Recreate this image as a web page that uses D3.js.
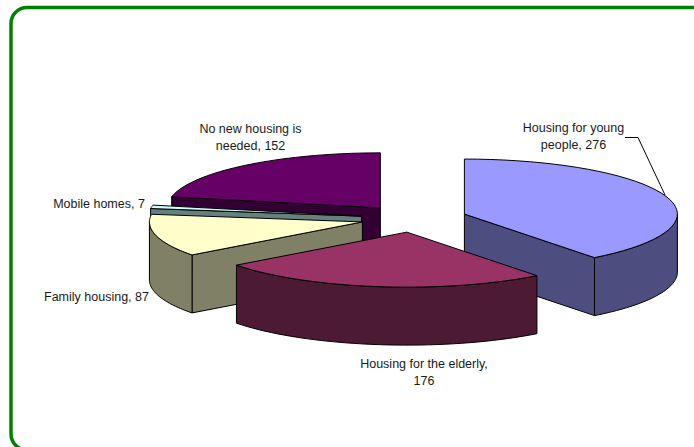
<!DOCTYPE html>
<html>
<head>
<meta charset="utf-8">
<script src="https://cdn.jsdelivr.net/npm/d3@7"></script>
<style>
  html, body { margin: 0; padding: 0; background: #fff; }
  svg { display: block; }
  text { font-family: "Liberation Sans", Arial, sans-serif; font-size: 12.5px; fill: #1a1a1a; }
</style>
</head>
<body>
<svg id="chart" width="694" height="447"></svg>
<script>
const categories = [
  "Housing for young people",
  "Housing for the elderly",
  "Family housing",
  "Mobile homes",
  "No new housing is needed",
];
const values = [276, 176, 87, 7, 152];
const topColors = ["#9999ff", "#993366", "#ffffcc", "#ccffff", "#660066"];
const wallColors = ["#4d4d80", "#4d1a33", "#808066", "#668080", "#330033"];
// wrapped label lines, one entry per slice
const labelLines = [
  ["Housing for young", "people, 276"],
  ["Housing for the elderly,", "176"],
  ["Family housing, 87"],
  ["Mobile homes, 7"],
  ["No new housing is", "needed, 152"],
];

const svg = d3.select("#chart"),
  width = +svg.attr("width"),
  height = +svg.attr("height");

// pie geometry
const centerX = 414,
  centerY = 218.5,
  radiusX = 213,
  radiusY = 55,
  depth = 58,
  explode = 0.25;

// outer frame, runs off the right edge of the page
svg
  .append("rect")
  .attr("x", 11)
  .attr("y", 7.5)
  .attr("width", width + 20)
  .attr("height", 442.5)
  .attr("rx", 16)
  .attr("fill", "#fff")
  .attr("stroke", "#008000")
  .attr("stroke-width", 3.5);

const pie = d3
  .pie()
  .sort(null)
  .value((d) => d);
const slices = pie(values);

function apex(slice, drop) {
  const mid = (slice.startAngle + slice.endAngle) / 2;
  return [
    centerX + explode * radiusX * Math.sin(mid),
    centerY - explode * radiusY * Math.cos(mid) + drop,
  ];
}

function project(slice, angle, drop) {
  const c = apex(slice, drop);
  return [c[0] + radiusX * Math.sin(angle), c[1] - radiusY * Math.cos(angle)];
}

function rim(slice, from, to, drop) {
  return d3.range(0, 41).map((i) => project(slice, from + ((to - from) * i) / 40, drop));
}

const line = d3.line();
const pieGroup = svg.append("g").attr("stroke", "#000").attr("stroke-width", 1).attr("stroke-linejoin", "round");

function drawFace(points, fill) {
  pieGroup.append("path").attr("d", line(points) + "Z").attr("fill", fill);
}

// back slices first so the nearer ones cover them
[4, 3, 2, 0, 1].forEach(function (i) {
  const s = slices[i];
  const a0 = s.startAngle,
    a1 = s.endAngle;

  // cut faces, only when they turn towards the viewer
  if (Math.sin(a0) < -1e-6) {
    drawFace([apex(s, 0), project(s, a0, 0), project(s, a0, depth), apex(s, depth)], wallColors[i]);
  }
  if (Math.sin(a1) > 1e-6) {
    drawFace([apex(s, 0), project(s, a1, 0), project(s, a1, depth), apex(s, depth)], wallColors[i]);
  }

  // outer wall, front half of the ellipse
  const from = Math.max(a0, Math.PI / 2),
    to = Math.min(a1, (3 * Math.PI) / 2);
  if (from < to) {
    drawFace(rim(s, from, to, 0).concat(rim(s, to, from, depth)), wallColors[i]);
  }

  // top face
  drawFace([apex(s, 0)].concat(rim(s, a0, a1, 0)), topColors[i]);
});

// leader line for the first slice
svg
  .append("path")
  .attr("d", line([[625, 137.5], [638, 137.5], [665, 195]]))
  .attr("fill", "none")
  .attr("stroke", "#000")
  .attr("stroke-width", 1);

// label anchors
const labelX = [573.5, 424, 96.5, 99, 250.5];
const labelY = [132, 368, 301, 208, 133];
labelLines.forEach(function (lines, i) {
  const t = svg
    .append("text")
    .attr("text-anchor", "middle")
    .attr("data-category", categories[i]);
  lines.forEach(function (txt, j) {
    t.append("tspan")
      .attr("x", labelX[i])
      .attr("y", labelY[i] + j * 17)
      .text(txt);
  });
});
</script>
</body>
</html>
